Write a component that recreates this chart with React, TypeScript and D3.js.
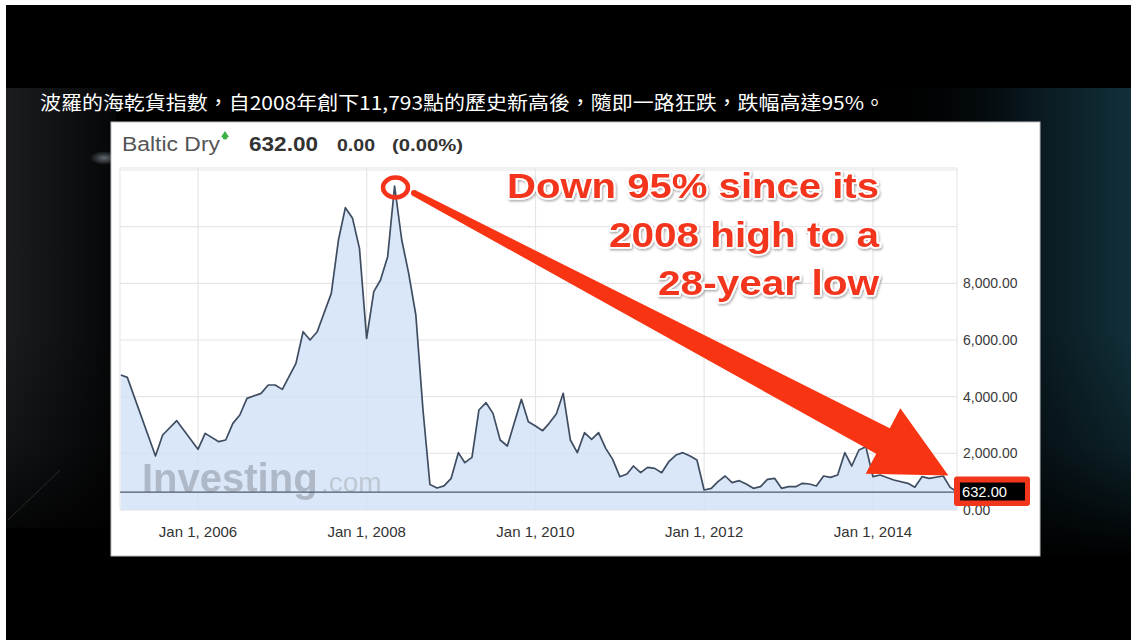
import React from "react";
import * as d3 from "d3";

// ---- data ----
const monthKeys = [
  "2005-02","2005-03","2005-07","2005-08","2005-10",
  "2006-01","2006-02","2006-04","2006-05","2006-06","2006-07","2006-08","2006-10","2006-11","2006-12",
  "2007-01","2007-03","2007-04","2007-05","2007-06","2007-08","2007-09","2007-10","2007-11","2007-12",
  "2008-01","2008-02","2008-03","2008-04","2008-05","2008-06","2008-07","2008-08","2008-09","2008-10","2008-11","2008-12",
  "2009-01","2009-02","2009-03","2009-04","2009-05","2009-06","2009-07","2009-08","2009-09","2009-11","2009-12",
  "2010-01","2010-02","2010-03","2010-04","2010-05","2010-06","2010-07","2010-08","2010-09","2010-10","2010-11","2010-12",
  "2011-01","2011-02","2011-03","2011-04","2011-05","2011-06","2011-07","2011-08","2011-09","2011-10","2011-11","2011-12",
  "2012-01","2012-02","2012-03","2012-04","2012-05","2012-06","2012-07","2012-08","2012-09","2012-10","2012-11","2012-12",
  "2013-01","2013-02","2013-03","2013-04","2013-05","2013-06","2013-07","2013-08","2013-09","2013-10","2013-11","2013-12",
  "2014-01","2014-02","2014-04","2014-06","2014-07","2014-08","2014-09","2014-11","2014-12","2015-01"
];
const bdiValues = [
  4765, 4680, 1905, 2647, 3153,
  2140, 2705, 2412, 2470, 3058, 3353, 3940, 4117, 4411, 4411,
  4258, 5176, 6293, 6000, 6293, 7646, 9529, 10670, 10294, 9235,
  6058, 7705, 8117, 8941, 11435, 9529, 8353, 6882, 3529, 900, 775, 850,
  1117, 2024, 1670, 1858, 3529, 3788, 3411, 2470, 2259, 3906, 3117,
  2964, 2800, 3058, 3388, 4117, 2470, 2024, 2729, 2494, 2729, 2176, 1788,
  1176, 1270, 1553, 1317, 1505, 1470, 1317, 1705, 1941, 2024, 1906, 1765,
  706, 765, 1000, 1200, 965, 1035, 918, 765, 823, 1082, 1117, 765,
  823, 823, 941, 918, 847, 1200, 1153, 1235, 2024, 1553, 2118, 2235,
  1176, 1235, 1059, 941, 800, 1176, 1117, 1200, 800, 632
];
const yLabelTicks = [0, 2000, 4000, 6000, 8000];
const yGridTicks = [2000, 4000, 6000, 8000, 10000, 12000];
const xTickYears = [2006, 2008, 2010, 2012, 2014];
const lastValue = 632;
const titleText = "波羅的海乾貨指數，自2008年創下11,793點的歷史新高後，隨即一路狂跌，跌幅高達95%。";
const headerName = "Baltic Dry";
const headerPrice = "632.00";
const headerChange = "0.00";
const headerPct = "(0.00%)";
const annotationLines = ["Down 95% since its", "2008 high to a", "28-year low"];

// ---- layout ----
const W = 1131, H = 640;
const plotL = 120, plotR = 957, plotT = 168, plotB = 510;

const parse = d3.timeParse("%Y-%m");
const points = monthKeys.map((k, i) => ({ date: parse(k) as Date, v: bdiValues[i] }));

const x = d3.scaleTime()
  .domain([new Date(2006, 0, 1), new Date(2014, 0, 1)])
  .range([198, 873]);
const y = d3.scaleLinear().domain([0, 12000]).range([plotB, 170]);

const area = d3.area<{ date: Date; v: number }>()
  .x(d => x(d.date)).y0(y(0)).y1(d => y(d.v));
const line = d3.line<{ date: Date; v: number }>()
  .x(d => x(d.date)).y(d => y(d.v));
const fmt = d3.format(",.2f");

// arrow geometry (annotation)
const S: [number, number] = [414, 193];
const B: [number, number] = [883, 441];
const len = Math.hypot(B[0] - S[0], B[1] - S[1]);
const u = [(B[0] - S[0]) / len, (B[1] - S[1]) / len];
const n = [-u[1], u[0]];
const hw0 = 3, hw1 = 14.5, headHW = 37, headLen = 74;
const P = (p: number[], k: number, v: number[]) => [p[0] + v[0] * k, p[1] + v[1] * k];
const tip = P(B, headLen, u);
const arrowPts = [
  P(S, hw0, n), P(B, hw1, n), P(B, headHW, n), tip, P(B, -headHW, n), P(B, -hw1, n), P(S, -hw0, n)
];

export default function App() {
  const red = "#f2361c";
  return (
    <svg width={W} height={H} style={{ position: "fixed", left: 0, top: 0, display: "block" }}
      fontFamily="'Liberation Sans', Arial, sans-serif">
      <defs>
        <linearGradient id="rightGlow" x1="0" x2="1" y1="0" y2="0">
          <stop offset="0" stopColor="#000" stopOpacity="0" />
          <stop offset="0.6" stopColor="#0a1a21" stopOpacity="0.9" />
          <stop offset="1" stopColor="#12303a" stopOpacity="1" />
        </linearGradient>
        <linearGradient id="vFade" x1="0" x2="0" y1="0" y2="1">
          <stop offset="0" stopColor="#000" stopOpacity="0" />
          <stop offset="0.5" stopColor="#000" stopOpacity="0.3" />
          <stop offset="1" stopColor="#000" stopOpacity="1" />
        </linearGradient>
        <linearGradient id="leftGlow" x1="0" x2="1" y1="0" y2="0">
          <stop offset="0" stopColor="#1a1d20" stopOpacity="1" />
          <stop offset="1" stopColor="#050607" stopOpacity="1" />
        </linearGradient>
        <radialGradient id="flare">
          <stop offset="0" stopColor="#cfe0ee" stopOpacity="0.45" />
          <stop offset="1" stopColor="#cfe0ee" stopOpacity="0" />
        </radialGradient>
        <filter id="txtShadow" x="-10%" y="-30%" width="120%" height="160%">
          <feDropShadow dx="1" dy="1.5" stdDeviation="1.2" floodColor="#000" floodOpacity="0.35" />
        </filter>
        <clipPath id="plotClip">
          <rect x={plotL} y={plotT} width={plotR - plotL} height={plotB - plotT + 2} />
        </clipPath>
      </defs>

      {/* background */}
      <rect x={0} y={0} width={W} height={H} fill="#fff" />
      <rect x={6} y={5} width={W - 6} height={H - 5} fill="#000" />
      <rect x={6} y={88} width={110} height={440} fill="url(#leftGlow)" />
      <rect x={880} y={88} width={W - 880} height={470} fill="url(#rightGlow)" />
      <rect x={6} y={330} width={W - 6} height={230} fill="url(#vFade)" />
      <ellipse cx={104} cy={158} rx={14} ry={7} fill="url(#flare)" />
      <line x1={8} y1={520} x2={60} y2={470} stroke="#2a2a2a" strokeWidth={1} />

      {/* title */}
      <text x={40} y={110} fill="#fff" fontSize={19} textLength={845} lengthAdjust="spacingAndGlyphs"
        fontFamily="'Noto Sans CJK TC', 'Noto Sans CJK SC', sans-serif">{titleText}</text>

      {/* panel */}
      <rect x={111} y={122} width={929} height={434} fill="#fff" stroke="#bdbdbd" strokeWidth={1} />

      {/* header */}
      <text x={122} y={151} fontSize={20} fill="#555" textLength={98} lengthAdjust="spacingAndGlyphs">{headerName}</text>
      <path d="M225,131 L229,137 L221,137 Z" fill="#3cb043" />
      <circle cx={225} cy={137} r={2.5} fill="#3cb043" />
      <text x={249} y={151} fontSize={20} fontWeight="bold" fill="#333" textLength={69} lengthAdjust="spacingAndGlyphs">{headerPrice}</text>
      <text x={337} y={151} fontSize={17} fontWeight="bold" fill="#333" textLength={38} lengthAdjust="spacingAndGlyphs">{headerChange}</text>
      <text x={392} y={151} fontSize={17} fontWeight="bold" fill="#333" textLength={71} lengthAdjust="spacingAndGlyphs">{headerPct}</text>

      {/* grid */}
      <rect x={plotL} y={plotT} width={plotR - plotL} height={plotB - plotT} fill="none" stroke="#e3e3e3" />
      {yGridTicks.map(t => (
        <line key={"hg" + t} x1={plotL} x2={plotR} y1={y(t)} y2={y(t)} stroke="#e6e6e6" strokeWidth={1.2} />
      ))}
      {xTickYears.map(yr => (
        <line key={"vg" + yr} x1={x(new Date(yr, 0, 1))} x2={x(new Date(yr, 0, 1))} y1={plotT} y2={plotB}
          stroke="#e6e6e6" strokeWidth={1.2} />
      ))}

      {/* series */}
      <g clipPath="url(#plotClip)">
        <path d={area(points) || ""} fill="#cfe1f6" fillOpacity={0.8} />
      </g>

      {/* watermark */}
      <text x={142} y={492} fontSize={40} fontWeight="bold" fill="#aab4c1" opacity={0.9}>Investing</text>
      <text x={321} y={492} fontSize={28} fill="#bcc5d0" opacity={0.9}>.com</text>

      <g clipPath="url(#plotClip)">
        <path d={line(points) || ""} fill="none" stroke="#3f4d62" strokeWidth={1.7} strokeLinejoin="round" />
      </g>
      <line x1={plotL} x2={plotR} y1={y(lastValue)} y2={y(lastValue)} stroke="#4b5a6b" strokeWidth={1.2} />

      {/* axes labels */}
      {yLabelTicks.map(t => (
        <text key={"yl" + t} x={963} y={y(t)} dy="0.35em" fontSize={14} fill="#3a3a3a">{fmt(t)}</text>
      ))}
      {xTickYears.map(yr => (
        <text key={"xl" + yr} x={x(new Date(yr, 0, 1))} y={537} fontSize={15} fill="#333" textAnchor="middle">
          {`Jan 1, ${yr}`}
        </text>
      ))}

      {/* annotation: circle + arrow */}
      <ellipse cx={395.5} cy={187.5} rx={12.5} ry={10} fill="none" stroke="#f5321a" strokeWidth={4.5} />
      <polygon points={arrowPts.map(p => p.join(",")).join(" ")} fill="#f93412" strokeLinejoin="round" />
      <circle cx={S[0]} cy={S[1]} r={hw0} fill="#f93412" />

      {/* annotation text */}
      {annotationLines.map((t, i) => {
        const widths = [372, 270, 221];
        const ys = [198, 247, 295];
        return (
          <text key={t} x={879} y={ys[i]} textAnchor="end" fontSize={35} fontWeight="bold" fill={red}
            stroke="#fff" strokeWidth={3.5} paintOrder="stroke" strokeLinejoin="round"
            filter="url(#txtShadow)" textLength={widths[i]} lengthAdjust="spacingAndGlyphs">{t}</text>
        );
      })}

      {/* last value label */}
      <rect x={954} y={476.5} width={76} height={29.5} rx={3} fill="#f2361c" />
      <rect x={960} y={482.5} width={65} height={18} fill="#000" />
      <text x={962} y={497} fontSize={14} fill="#fff" textLength={45} lengthAdjust="spacingAndGlyphs">{fmt(lastValue)}</text>
    </svg>
  );
}
